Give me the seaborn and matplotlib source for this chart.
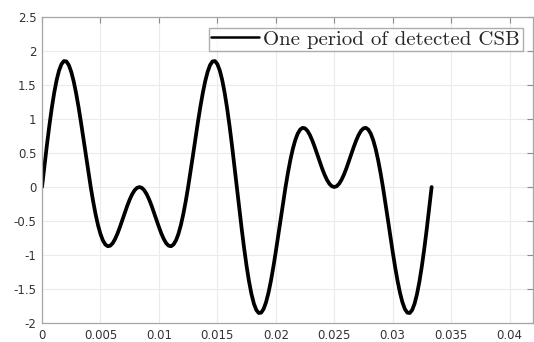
import numpy as np
import pandas as pd
import matplotlib
matplotlib.use("Agg")
import matplotlib.pyplot as plt
import seaborn as sns

csb_values = [
    0.0, 0.3126, 0.6161, 0.9017, 1.1611, 1.3871, 1.5733, 1.7151, 1.8090, 1.8533,
    1.8478, 1.7940, 1.6948, 1.5548, 1.3796, 1.1759, 0.9511, 0.7130, 0.4699, 0.2297,
    0.0, -0.2124, -0.4014, -0.5621, -0.6910, -0.7857, -0.8454, -0.8708, -0.8635, -0.8270,
    -0.7654, -0.6837, -0.5878, -0.4837, -0.3777, -0.2759, -0.1839, -0.1067, -0.0485, -0.0123,
    0.0,
    -0.0123, -0.0485, -0.1067, -0.1839, -0.2759, -0.3777, -0.4837, -0.5878, -0.6837, -0.7654,
    -0.8270, -0.8635, -0.8708, -0.8454, -0.7857, -0.6910, -0.5621, -0.4014, -0.2124, 0.0,
    0.2297, 0.4699, 0.7130, 0.9511, 1.1759, 1.3796, 1.5548, 1.6948, 1.7940, 1.8478,
    1.8533, 1.8090, 1.7151, 1.5733, 1.3871, 1.1611, 0.9017, 0.6161, 0.3126, 0.0,
    -0.3126, -0.6161, -0.9017, -1.1611, -1.3871, -1.5733, -1.7151, -1.8090, -1.8533, -1.8478,
    -1.7940, -1.6948, -1.5548, -1.3796, -1.1759, -0.9511, -0.7130, -0.4699, -0.2297, 0.0,
    0.2124, 0.4014, 0.5621, 0.6910, 0.7857, 0.8454, 0.8708, 0.8635, 0.8270, 0.7654,
    0.6837, 0.5878, 0.4837, 0.3777, 0.2759, 0.1839, 0.1067, 0.0485, 0.0123, 0.0,
    0.0123, 0.0485, 0.1067, 0.1839, 0.2759, 0.3777, 0.4837, 0.5878, 0.6837, 0.7654,
    0.8270, 0.8635, 0.8708, 0.8454, 0.7857, 0.6910, 0.5621, 0.4014, 0.2124, 0.0,
    -0.2297, -0.4699, -0.7130, -0.9511, -1.1759, -1.3796, -1.5548, -1.6948, -1.7940, -1.8478,
    -1.8533, -1.8090, -1.7151, -1.5733, -1.3871, -1.1611, -0.9017, -0.6161, -0.3126, 0.0,
]
sample_period = 1.0 / 4800.0  # seconds between samples
series_label = "One period of detected CSB"

x_ticks = [0, 0.005, 0.01, 0.015, 0.02, 0.025, 0.03, 0.035, 0.04]
x_tick_labels = ["0", "0.005", "0.01", "0.015", "0.02", "0.025", "0.03", "0.035", "0.04"]
y_ticks = [-2, -1.5, -1, -0.5, 0, 0.5, 1, 1.5, 2, 2.5]
y_tick_labels = ["-2", "-1.5", "-1", "-0.5", "0", "0.5", "1", "1.5", "2", "2.5"]

time = np.arange(len(csb_values)) * sample_period
df = pd.DataFrame({"t": time, "v": csb_values})

sns.set_style("white")
plt.rcParams["font.family"] = ["DejaVu Sans"]

fig = plt.figure(figsize=(5.34, 3.42), dpi=100)
ax = fig.add_axes([0.0787, 0.0556, 0.9193, 0.8944])

sns.lineplot(data=df, x="t", y="v", ax=ax, color="black", linewidth=2.7,
             label=series_label, sort=False)
for ln in ax.get_lines():
    ln.set_solid_joinstyle("round")
    ln.set_solid_capstyle("round")

ax.set_xlim(0, 0.042)
ax.set_ylim(-2, 2.5)
ax.set_xticks(x_ticks)
ax.set_xticklabels(x_tick_labels)
ax.set_yticks(y_ticks)
ax.set_yticklabels(y_tick_labels)
ax.set_xlabel("")
ax.set_ylabel("")

ax.grid(True, color="#ebebeb", linewidth=0.8)
ax.set_axisbelow(True)
for s in ax.spines.values():
    s.set_color("#a6a6a6")
    s.set_linewidth(0.9)
ax.tick_params(axis="both", direction="in", length=4, width=0.8, color="#8c8c8c",
               labelsize=8.5, labelcolor="#333333", top=True, right=True,
               pad=4)

leg = ax.legend(loc="upper right", prop={"family": "cmr10", "size": 15},
                frameon=True, fancybox=False, borderpad=0.12, handlelength=2.3,
                handletextpad=0.2, borderaxespad=0.5)
leg.get_frame().set_edgecolor("#999999")
leg.get_frame().set_linewidth(1.0)
for line in leg.get_lines():
    line.set_linewidth(1.8)

fig.savefig("out.png", dpi=100)
